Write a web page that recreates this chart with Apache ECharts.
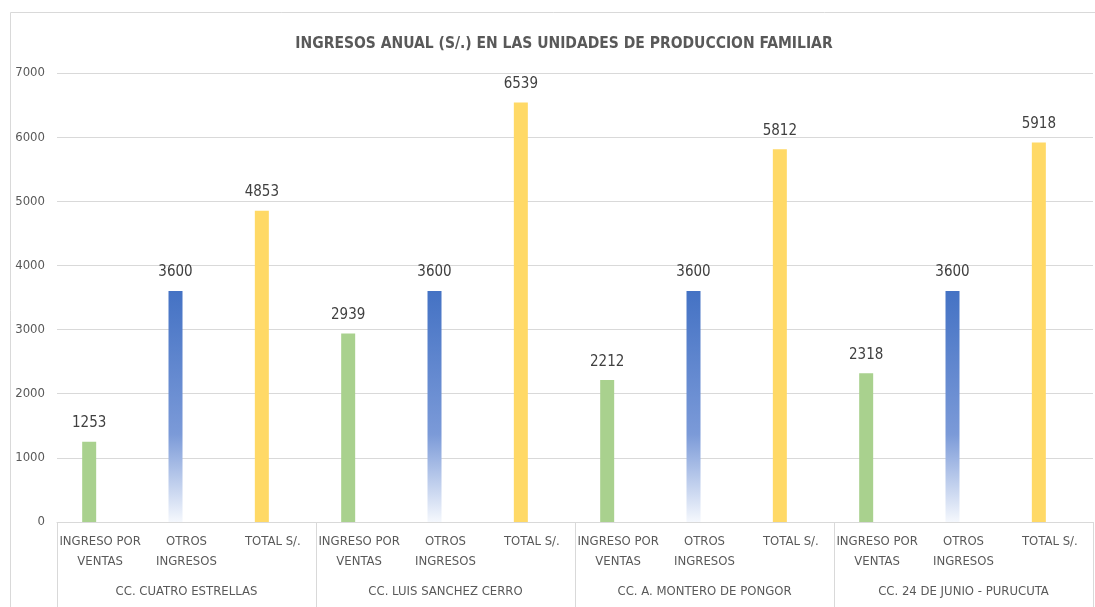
<!DOCTYPE html>
<html>
<head>
<meta charset="utf-8">
<script src="https://cdn.jsdelivr.net/npm/echarts@6/dist/echarts.min.js"></script>
<style>
  html, body { margin: 0; padding: 0; background: #fff; }
  #chart { width: 1095px; height: 607px; }
</style>
</head>
<body>
<div id="chart"></div>
<script>
// categorias por comunidad
const tipos = ['INGRESO POR\nVENTAS', 'OTROS\nINGRESOS', 'TOTAL S/.'];
const grupos = ['CC. CUATRO ESTRELLAS', 'CC. LUIS SANCHEZ CERRO', 'CC. A. MONTERO DE PONGOR', 'CC. 24 DE JUNIO - PURUCUTA'];
const ingresoVentas = [1253, 2939, 2212, 2318];
const otrosIngresos = [3600, 3600, 3600, 3600];
const totalSoles = [4853, 6539, 5812, 5918];
const yTicks = { min: 0, max: 7000, interval: 1000 };

const fuente = "'Liberation Sans Narrow', 'DejaVu Sans Condensed', sans-serif";

// eje x: 12 categorias (3 por grupo)
const categorias = [];
grupos.forEach(() => tipos.forEach(t => categorias.push(t)));

// cada serie solo tiene valor en su posicion dentro del grupo
function expandir(valores, pos) {
  const out = [];
  valores.forEach(v => {
    for (let i = 0; i < tipos.length; i++) out.push(i === pos ? v : '-');
  });
  return out;
}

const chart = echarts.init(document.getElementById('chart'));

const labelTop = {
  show: true,
  position: 'top',
  distance: 11,
  color: '#404040',
  fontSize: 15,
  fontFamily: fuente
};

const option = {
  animation: false,
  title: {
    text: 'INGRESOS ANUAL (S/.) EN LAS UNIDADES DE PRODUCCION FAMILIAR',
    left: 559,
    top: 31,
    textAlign: 'center',
    textStyle: { color: '#595959', fontSize: 15.5, fontWeight: 'bold', fontFamily: fuente }
  },
  graphic: [{
    type: 'rect',
    shape: { x: 10.5, y: 12.5, width: 1100, height: 620 },
    style: { fill: 'none', stroke: '#d9d9d9', lineWidth: 1 },
    z: -1
  }],
  grid: { left: 57, right: 2, top: 73, bottom: 85 },
  xAxis: [{
    type: 'category',
    data: categorias,
    position: 'bottom',
    axisLine: { show: true, lineStyle: { color: '#d9d9d9' } },
    axisTick: { show: false },
    axisLabel: {
      interval: 0,
      margin: 10,
      lineHeight: 20,
      color: '#595959',
      fontSize: 13,
      fontFamily: fuente
    }
  }, {
    type: 'category',
    data: grupos,
    position: 'bottom',
    axisLine: { show: false },
    axisTick: { show: true, length: 85, interval: 0, lineStyle: { color: '#d9d9d9' } },
    axisLabel: {
      interval: 0,
      margin: 63,
      color: '#595959',
      fontSize: 13,
      fontFamily: fuente
    }
  }],
  yAxis: {
    type: 'value',
    min: yTicks.min,
    max: yTicks.max,
    interval: yTicks.interval,
    axisLine: { show: false },
    axisTick: { show: false },
    splitLine: { lineStyle: { color: '#d9d9d9' } },
    axisLabel: {
      margin: 12,
      color: '#595959',
      fontSize: 13,
      fontFamily: fuente,
      formatter: v => String(v)
    }
  },
  series: [{
    name: 'INGRESO POR VENTAS',
    type: 'bar',
    stack: 'v',
    barWidth: 14,
    barGap: '57%',
    data: expandir(ingresoVentas, 0),
    itemStyle: { color: '#A9D18E' },
    label: labelTop
  }, {
    name: 'OTROS INGRESOS',
    type: 'bar',
    stack: 'v',
    barWidth: 14,
    data: expandir(otrosIngresos, 1),
    itemStyle: {
      color: new echarts.graphic.LinearGradient(0, 0, 0, 1, [
        { offset: 0, color: '#4472C4' },
        { offset: 0.62, color: '#7b9ad8' },
        { offset: 1, color: '#f5f8fd' }
      ])
    },
    label: labelTop
  }, {
    name: 'TOTAL S/.',
    type: 'bar',
    stack: 'v',
    barWidth: 14,
    data: expandir(totalSoles, 2),
    itemStyle: { color: '#FFD966' },
    label: labelTop
  }, {
    // serie vacia: desplaza las barras a la izquierda como en el original
    name: 'vacio',
    type: 'bar',
    barWidth: 14,
    data: []
  }]
};

chart.setOption(option);
</script>
</body>
</html>
